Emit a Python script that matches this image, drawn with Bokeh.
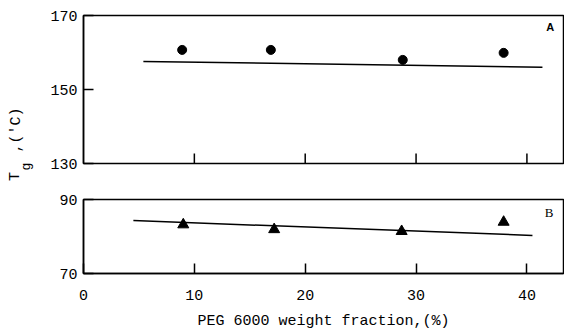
import math
from bokeh.plotting import figure
from bokeh.layouts import row, column
from bokeh.models import Range1d, FixedTicker, Label
from bokeh.embed import file_html
from bokeh.resources import INLINE

# ---- data ----
peg_a = [8.9, 16.9, 28.8, 37.9]
tg_a = [160.7, 160.7, 158.0, 159.9]
fit_a_x = [5.4, 41.4]
fit_a_y = [157.6, 156.0]

peg_b = [9.0, 17.2, 28.7, 37.9]
tg_b = [83.2, 81.9, 81.4, 83.9]
fit_b_x = [4.5, 40.5]
fit_b_y = [84.3, 80.3]

x_ticks = [0, 10, 20, 30, 40]
y_ticks_a = [130, 150, 170]
y_ticks_b = [70, 90]

MONO = "Liberation Mono"
FS = "15px"


def style(p):
    p.grid.grid_line_color = None
    p.outline_line_color = "black"
    p.outline_line_width = 1.5
    p.background_fill_color = "white"
    p.border_fill_color = "white"
    for ax in p.axis:
        ax.axis_line_color = "black"
        ax.axis_line_width = 1.5
        ax.major_tick_in = 10
        ax.major_tick_out = 0
        ax.major_tick_line_color = "black"
        ax.major_tick_line_width = 1.5
        ax.minor_tick_line_color = None
        ax.major_label_text_font = MONO
        ax.major_label_text_font_size = FS
        ax.major_label_text_color = "black"
    p.yaxis.major_label_standoff = 6


XR = (0, 43.3)
LW = 36

# label figure
p0 = figure(width=LW, height=333, x_range=Range1d(0, LW), y_range=Range1d(333, 0),
            output_backend="svg", toolbar_location=None,
            x_axis_location=None, y_axis_location=None, min_border=0)
p0.grid.grid_line_color = None
p0.outline_line_color = None
p0.add_layout(Label(x=15, y=176, text="T", angle=math.pi / 2, text_font=MONO,
                    text_font_size="15px", text_align="center", text_baseline="middle",
                    text_color="black"))
p0.add_layout(Label(x=26, y=166, text="g", angle=math.pi / 2, text_font=MONO,
                    text_font_size="13px", text_align="center", text_baseline="middle",
                    text_color="black"))
p0.add_layout(Label(x=16, y=152, text=",('C)", angle=math.pi / 2, text_font=MONO,
                    text_font_size="15px", text_align="left", text_baseline="middle",
                    text_color="black"))

# panel A
p1 = figure(width=564 - LW, height=181, x_range=Range1d(*XR), y_range=Range1d(130, 170),
            output_backend="svg", toolbar_location=None, x_axis_location=None,
            min_border_left=83 - LW, min_border_right=1, min_border_top=15, min_border_bottom=18)
style(p1)
p1.yaxis.ticker = FixedTicker(ticks=y_ticks_a)
# inward ticks on the bottom edge of panel A (no labels there)
tick_len = 10 * (170 - 130) / 148
xt_a = [t for t in x_ticks if t > 0]
p1.segment(x0=xt_a, y0=[130] * len(xt_a), x1=xt_a, y1=[130 + tick_len] * len(xt_a),
           line_color="black", line_width=1.5)
p1.line(fit_a_x, fit_a_y, line_color="black", line_width=1.5)
p1.scatter(peg_a, tg_a, marker="circle", size=9, fill_color="black", line_color="black")
p1.add_layout(Label(x=42.1, y=166.8, text="A", text_font="Liberation Sans", text_font_size="11px",
                    text_font_style="bold", text_align="center", text_baseline="middle",
                    text_color="black"))

# panel B
p2 = figure(width=564 - LW, height=152, x_range=Range1d(*XR), y_range=Range1d(70, 90),
            output_backend="svg", toolbar_location=None,
            min_border_left=83 - LW, min_border_right=1, min_border_top=18, min_border_bottom=60)
style(p2)
p2.xaxis.ticker = FixedTicker(ticks=x_ticks)
p2.xaxis.major_label_standoff = 16
p2.yaxis.ticker = FixedTicker(ticks=y_ticks_b)
p2.xaxis.axis_label = "PEG 6000 weight fraction,(%)"
p2.xaxis.axis_label_text_font = MONO
p2.xaxis.axis_label_text_font_size = FS
p2.xaxis.axis_label_text_font_style = "normal"
p2.xaxis.axis_label_text_color = "black"
p2.xaxis.axis_label_standoff = 10
p2.line(fit_b_x, fit_b_y, line_color="black", line_width=1.5)
p2.scatter(peg_b, tg_b, marker="triangle", size=11, fill_color="black", line_color="black")
p2.add_layout(Label(x=42.0, y=86.5, text="B", text_font="Liberation Serif", text_font_size="13px",
                    text_align="center", text_baseline="middle", text_color="black"))

layout = row(p0, column(p1, p2))
open("out.html", "w").write(file_html(layout, INLINE))
